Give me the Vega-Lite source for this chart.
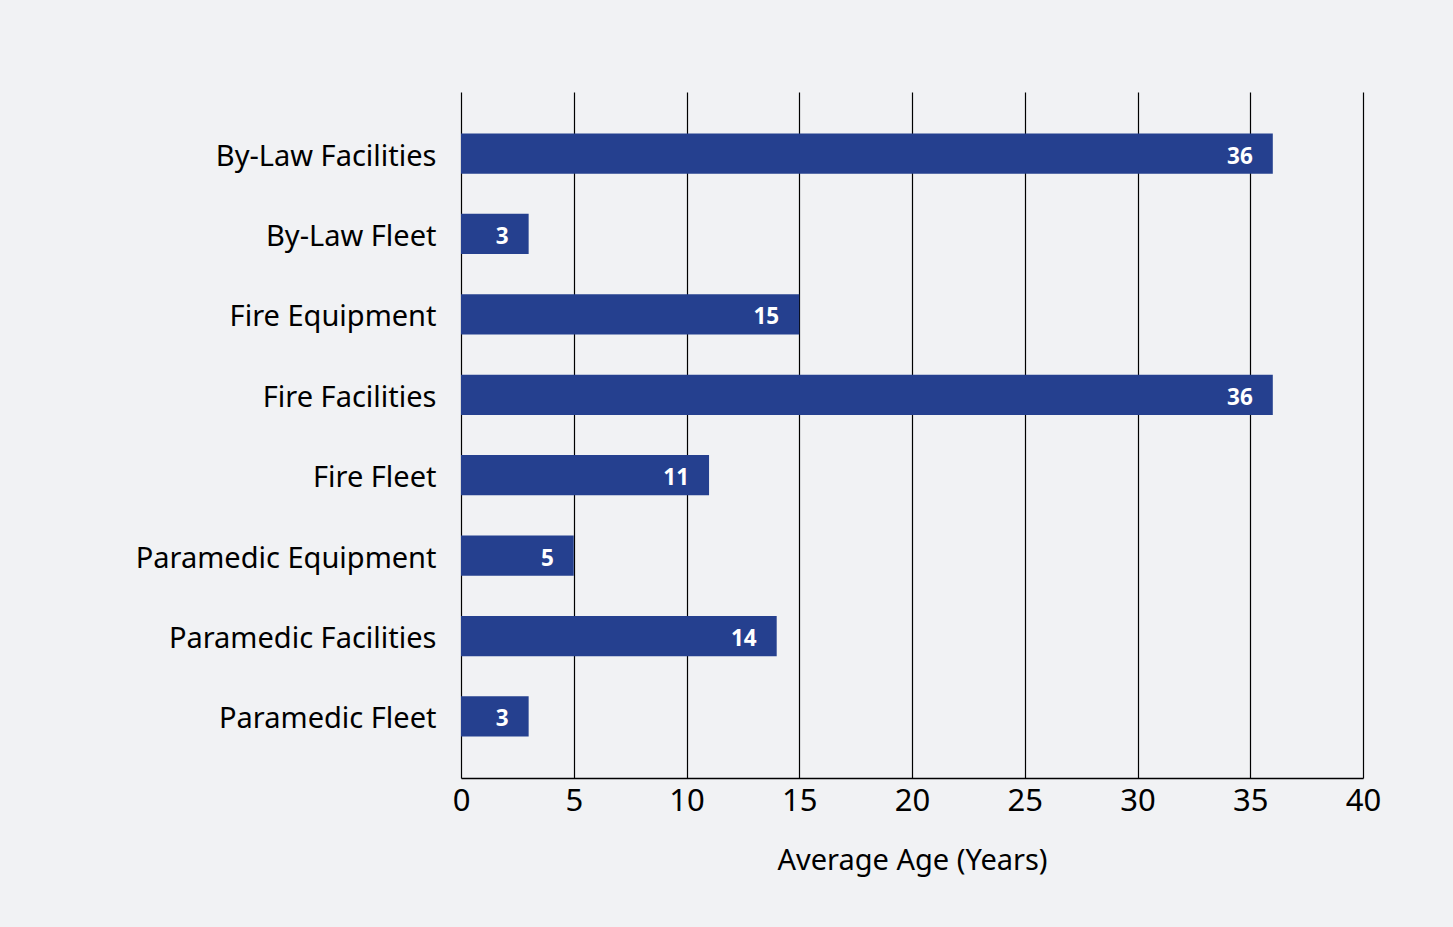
{
  "$schema": "https://vega.github.io/schema/vega-lite/v6.json",
  "autosize": "none",
  "width": 902,
  "height": 686,
  "padding": {"left": 461, "top": 92, "right": 90, "bottom": 149},
  "background": "#f1f2f4",
  "config": {
    "view": {"stroke": null},
    "font": "Noto Sans",
    "axis": {"labelFont": "Noto Sans", "titleFont": "Noto Sans"}
  },
  "data": {
    "values": [
      {"category": "By-Law Facilities", "age": 36},
      {"category": "By-Law Fleet", "age": 3},
      {"category": "Fire Equipment", "age": 15},
      {"category": "Fire Facilities", "age": 36},
      {"category": "Fire Fleet", "age": 11},
      {"category": "Paramedic Equipment", "age": 5},
      {"category": "Paramedic Facilities", "age": 14},
      {"category": "Paramedic Fleet", "age": 3}
    ]
  },
  "encoding": {
    "y": {
      "field": "category",
      "type": "nominal",
      "sort": null,
      "scale": {"paddingInner": 0.5, "paddingOuter": 0.515},
      "axis": {
        "title": null,
        "domain": false,
        "ticks": false,
        "labelFontSize": 29,
        "labelColor": "#000000",
        "labelPadding": 25,
        "labelLimit": 400,
        "labelBaseline": "middle",
        "labelOffset": 3
      }
    },
    "x": {
      "field": "age",
      "type": "quantitative",
      "scale": {"domain": [0, 40], "nice": false},
      "axis": {
        "values": [0, 5, 10, 15, 20, 25, 30, 35, 40],
        "title": "Average Age (Years)",
        "titleFontSize": 29,
        "titleFontWeight": "normal",
        "titleColor": "#000000",
        "titlePadding": 30,
        "labelFontSize": 31,
        "labelColor": "#000000",
        "labelPadding": 8,
        "labelFlush": false,
        "ticks": false,
        "domain": true,
        "domainColor": "#000000",
        "domainWidth": 1.5,
        "grid": true,
        "gridColor": "#000000",
        "gridWidth": 1.2,
        "gridOpacity": 1
      }
    }
  },
  "layer": [
    {"mark": {"type": "bar", "color": "#25408f"}},
    {
      "mark": {
        "type": "text",
        "align": "right",
        "baseline": "middle",
        "dx": -20,
        "dy": 3,
        "color": "#ffffff",
        "fontWeight": "bold",
        "fontSize": 22.5
      },
      "encoding": {"text": {"field": "age", "type": "quantitative"}}
    }
  ]
}
